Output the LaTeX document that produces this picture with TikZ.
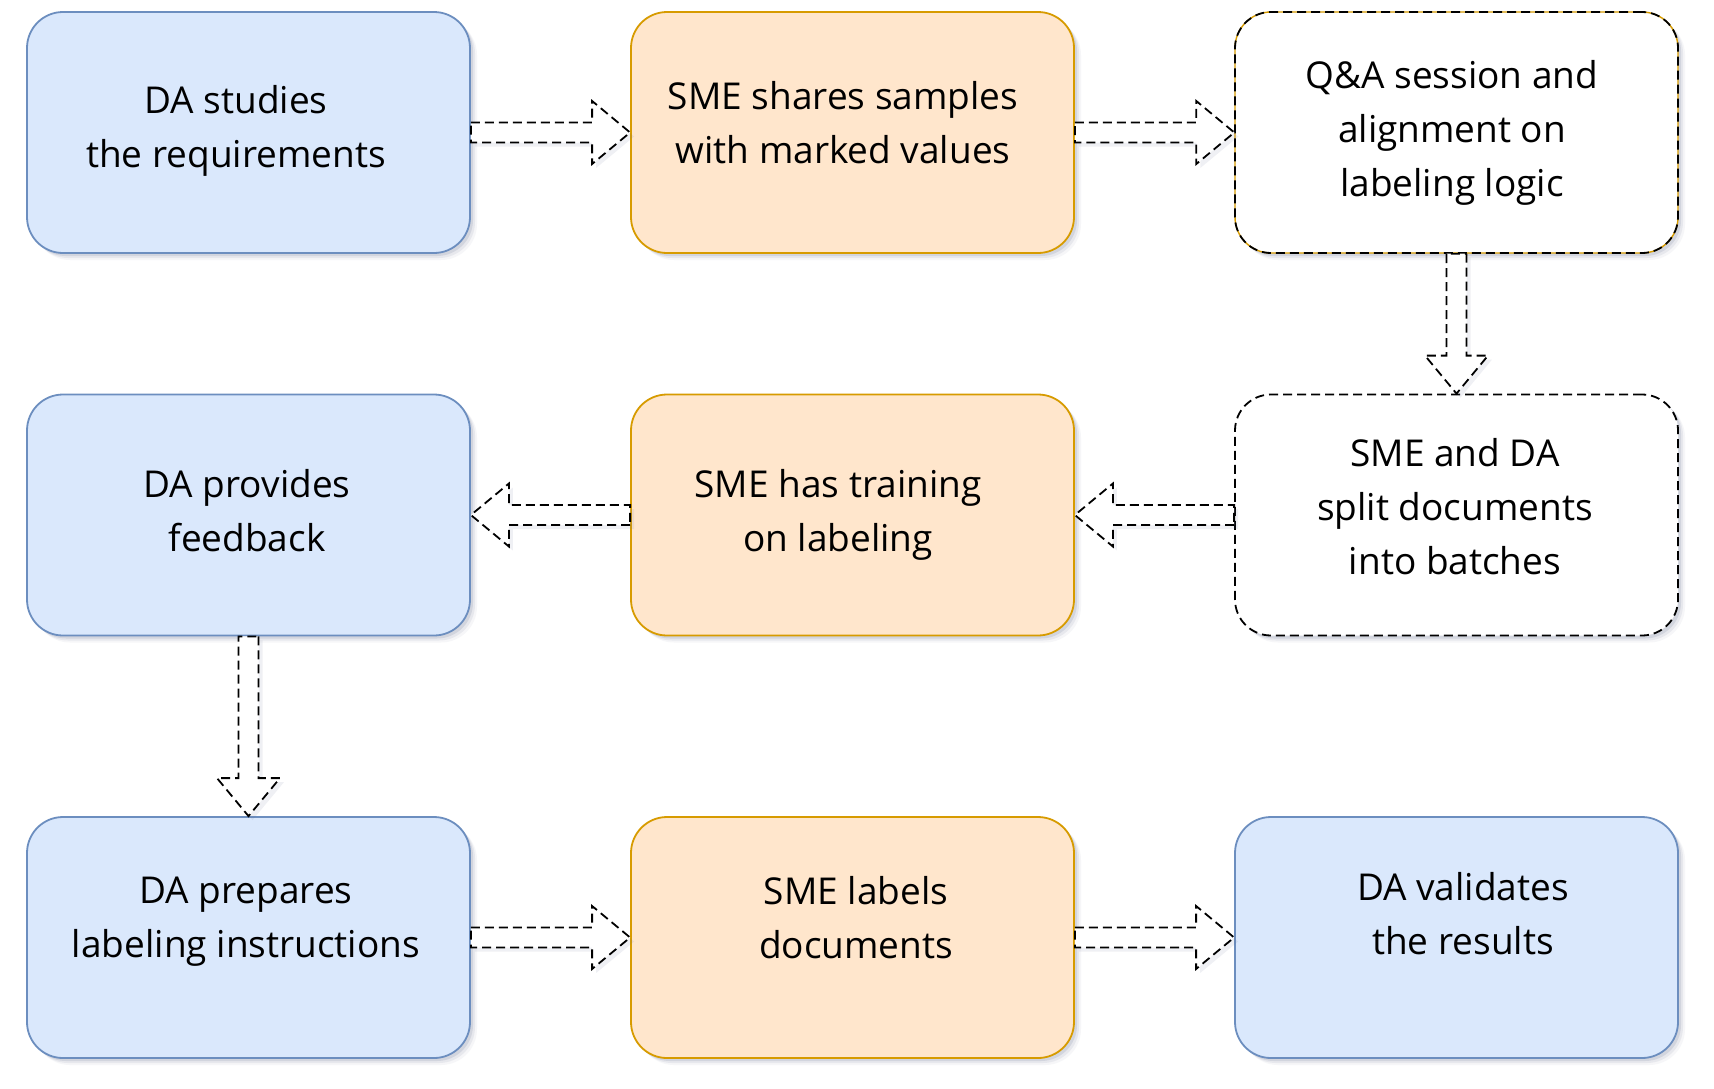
\documentclass[tikz,border=0pt]{standalone}
\usepackage{fontspec}
\setmainfont{Open Sans}
\usetikzlibrary{calc,shadows}
\definecolor{bluefill}{HTML}{DAE8FC}
\definecolor{blueline}{HTML}{6C8EBF}
\definecolor{orangefill}{HTML}{FFE6CC}
\definecolor{orangeline}{HTML}{D79B00}
\definecolor{shc}{HTML}{6A7394}
\tikzset{
  softshadow/.style={
    drop shadow={shadow xshift=7pt,shadow yshift=-7pt,opacity=0.06,fill=shc},
    drop shadow={shadow xshift=5pt,shadow yshift=-5pt,opacity=0.10,fill=shc},
    drop shadow={shadow xshift=3pt,shadow yshift=-3pt,opacity=0.16,fill=shc}},
  boxbase/.style={rectangle, rounded corners=36pt, minimum width=443pt,
    minimum height=241pt, inner sep=0pt, line width=1.8pt, softshadow},
  bluebox/.style={boxbase, fill=bluefill, draw=blueline},
  orangebox/.style={boxbase, fill=orangefill, draw=orangeline},
  qabox/.style={boxbase, fill=white, draw=orangeline, line width=1.4pt,
    postaction={draw=black, line width=1.8pt, dash pattern=on 9pt off 5pt}},
  dashbox/.style={boxbase, fill=white, draw=black, dash pattern=on 9pt off 5pt},
  lbl/.style={align=center, inner sep=0pt, text=black,
    font=\fontsize{37}{54}\selectfont},
  hollow/.style={draw=black, fill=white, line width=1.8pt,
    dash pattern=on 9pt off 5pt, line join=miter,
    drop shadow={shadow xshift=4pt,shadow yshift=-4pt,opacity=0.10,fill=shc}}
}
\newcommand{\hollowarrow}[2]{%
  \coordinate (hbase) at ($(#2)!38pt!(#1)$);
  \draw[hollow] ($(#1)!10pt!90:(#2)$) -- ($(hbase)!10pt!90:(#2)$)
    -- ($(hbase)!31.5pt!90:(#2)$) -- (#2)
    -- ($(hbase)!31.5pt!-90:(#2)$) -- ($(hbase)!10pt!-90:(#2)$)
    -- ($(#1)!10pt!-90:(#2)$) -- cycle;
}
\begin{document}
\begin{tikzpicture}[x=1pt,y=-1pt]
  \fill[white] (0,0) rectangle (1714,1088);
  \useasboundingbox (0,0) rectangle (1714,1088);

  \node[bluebox]   (b1) at (248.5,132.5) {};
  \node[orangebox] (b2) at (852.5,132.5) {};
  \node[qabox]     (b3) at (1456.5,132.5) {};
  \node[bluebox]   (b4) at (248.5,515) {};
  \node[orangebox] (b5) at (852.5,515) {};
  \node[dashbox]   (b6) at (1456.5,515) {};
  \node[bluebox]   (b7) at (248.5,937.5) {};
  \node[orangebox] (b8) at (852.5,937.5) {};
  \node[bluebox]   (b9) at (1456.5,937.5) {};

  \node[lbl] (t1) at (236,131) {DA studies\\the requirements};
  \node[lbl] (t2) at (843,123) {SME shares samples\\with marked values};
  \node[lbl] (t3) at (1452,133) {Q\&A session and\\alignment on\\labeling logic};
  \node[lbl] (t4) at (247,511) {DA provides\\feedback};
  \node[lbl] (t5) at (838,515) {SME has training\\on labeling};
  \node[lbl] (t6) at (1455,507) {SME and DA\\split documents\\into batches};
  \node[lbl] (t7) at (246,922) {DA prepares\\labeling instructions};
  \node[lbl] (t8) at (856,918) {SME labels\\documents};
  \node[lbl] (t9) at (1463,914) {DA validates\\the results};

  \hollowarrow{b1.east}{b2.west}
  \hollowarrow{b2.east}{b3.west}
  \hollowarrow{b3.south}{b6.north}
  \hollowarrow{b6.west}{b5.east}
  \hollowarrow{b5.west}{b4.east}
  \hollowarrow{b4.south}{b7.north}
  \hollowarrow{b7.east}{b8.west}
  \hollowarrow{b8.east}{b9.west}
\end{tikzpicture}
\end{document}
